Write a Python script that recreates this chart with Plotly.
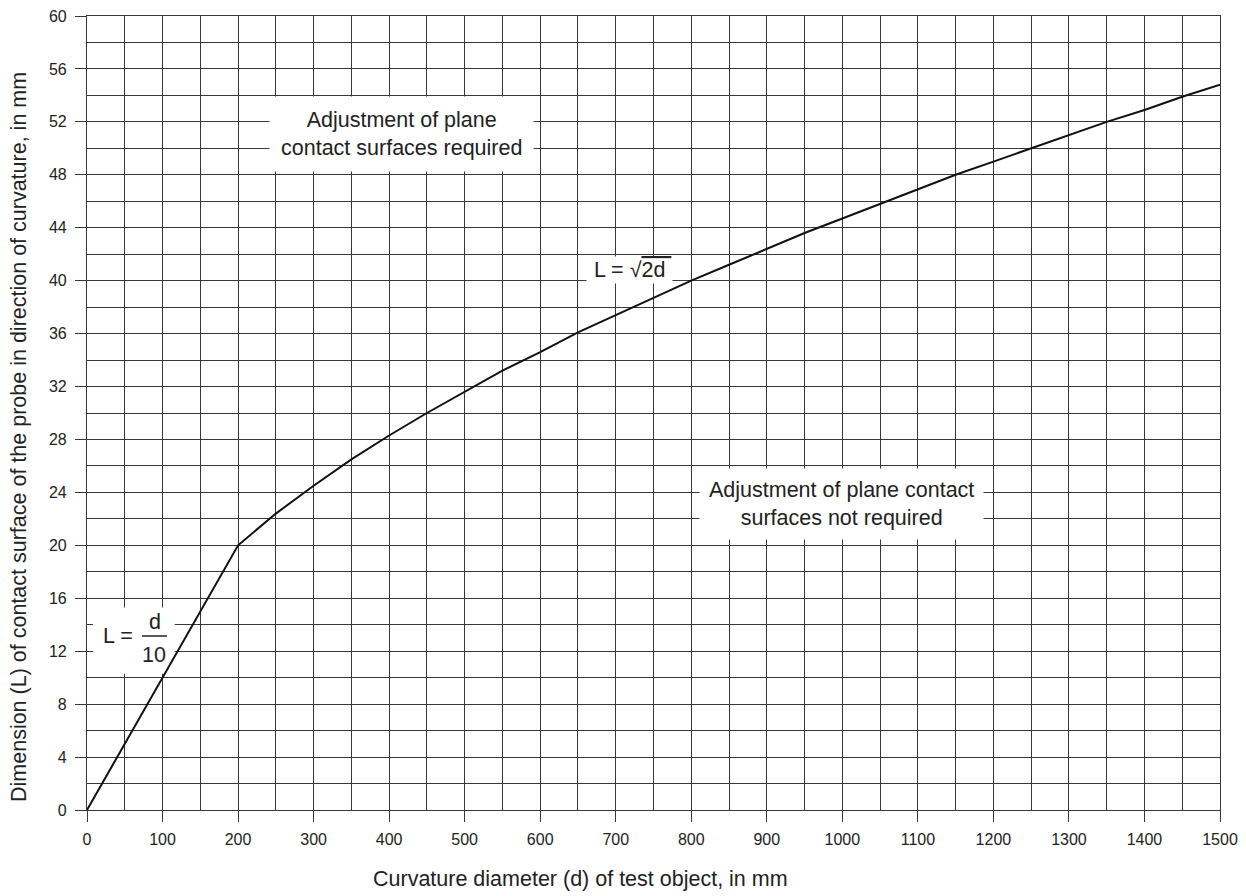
import plotly.graph_objects as go

# Curvature diameter d (mm) and dimension L (mm)
d_values = [0, 200, 250, 300, 350, 400, 450, 500, 550, 600, 650, 700, 750, 800,
            850, 900, 950, 1000, 1050, 1100, 1150, 1200, 1250, 1300, 1350, 1400,
            1450, 1500]
L_values = [0, 20.0, 22.4, 24.5, 26.5, 28.3, 30.0, 31.6, 33.2, 34.6, 36.1, 37.4,
            38.7, 40.0, 41.2, 42.4, 43.6, 44.7, 45.8, 46.9, 48.0, 49.0, 50.0, 51.0,
            52.0, 52.9, 53.9, 54.8]

x_ticks = [0, 100, 200, 300, 400, 500, 600, 700, 800, 900, 1000, 1100, 1200, 1300, 1400, 1500]
y_ticks = [0, 4, 8, 12, 16, 20, 24, 28, 32, 36, 40, 44, 48, 52, 56, 60]

FONT = "Liberation Sans, Arial, Helvetica, sans-serif"
GRID = "#383838"
TXT = "#222222"

fig = go.Figure()
fig.add_trace(go.Scatter(x=d_values, y=L_values, mode="lines",
                         line=dict(color="#111111", width=2), hoverinfo="skip",
                         showlegend=False))

ann_font = dict(family=FONT, size=21.5, color=TXT)
fig.add_annotation(x=417, y=51.1, xref="x", yref="y",
                   text="Adjustment of plane<br>contact surfaces required",
                   showarrow=False, bgcolor="white", font=ann_font,
                   borderpad=11, align="center")
fig.add_annotation(x=999, y=23.1, xref="x", yref="y",
                   text="Adjustment of plane contact<br>surfaces not required",
                   showarrow=False, bgcolor="white", font=ann_font,
                   borderpad=9, align="center")
# L = sqrt(2d)
fig.add_annotation(x=718, y=40.8, xref="x", yref="y",
                   text=" L = √<span style='text-decoration:overline'>2d </span>",
                   showarrow=False, bgcolor="white", font=ann_font, borderpad=1)

# L = d/10 (white box below the curve, then the stacked fraction)
fig.add_shape(type="rect", x0=8, x1=116, y0=10.3, y1=15.3, xref="x", yref="y",
              fillcolor="white", line=dict(width=0), layer="between")
fig.add_annotation(x=40.4, y=13.15, xref="x", yref="y",
                   text="L =", showarrow=False, font=ann_font)
fig.add_annotation(x=89.5, y=14.2, xref="x", yref="y",
                   text="d", showarrow=False, font=ann_font)
fig.add_annotation(x=88.7, y=11.75, xref="x", yref="y",
                   text="10", showarrow=False, font=ann_font)
fig.add_shape(type="line", x0=72.8, x1=105.9, y0=13.15, y1=13.15, xref="x", yref="y",
              line=dict(color=TXT, width=1.5), layer="above")

# Axis titles
fig.add_annotation(x=0.436, y=-0.087, xref="paper", yref="paper",
                   text="Curvature diameter (d) of test object, in mm",
                   showarrow=False, font=ann_font, xanchor="center", yanchor="middle")
fig.add_annotation(x=-0.0600, y=0.4698, xref="paper", yref="paper",
                   text="Dimension (L) of contact surface of the probe in direction of curvature, in mm",
                   showarrow=False, font=ann_font, textangle=-90,
                   xanchor="center", yanchor="middle")

axis_common = dict(showline=True, linecolor=GRID, linewidth=1.2, mirror=True,
                   showgrid=True, gridcolor=GRID, gridwidth=1.2,
                   ticks="outside", ticklen=11, tickcolor=GRID, tickwidth=1.2,
                   tickfont=dict(family=FONT, size=16, color=TXT),
                   ticklabeloverflow="allow", zeroline=False)

fig.update_xaxes(range=[0, 1500], tickvals=x_ticks, ticktext=[str(v) for v in x_ticks],
                 minor=dict(dtick=50, tick0=0, showgrid=True, gridcolor=GRID,
                            gridwidth=1.2, ticks=""),
                 ticklabelstandoff=4,
                 **axis_common)
fig.update_yaxes(range=[0, 60], tickvals=y_ticks, ticktext=[str(v) for v in y_ticks],
                 minor=dict(dtick=2, tick0=0, showgrid=True, gridcolor=GRID,
                            gridwidth=1.2, ticks=""),
                 ticklabelstandoff=5,
                 **axis_common)

fig.update_layout(width=1246, height=896, plot_bgcolor="white", paper_bgcolor="white",
                  margin=dict(l=79, r=34, t=8, b=94, autoexpand=False))

fig.write_html("out.html")
